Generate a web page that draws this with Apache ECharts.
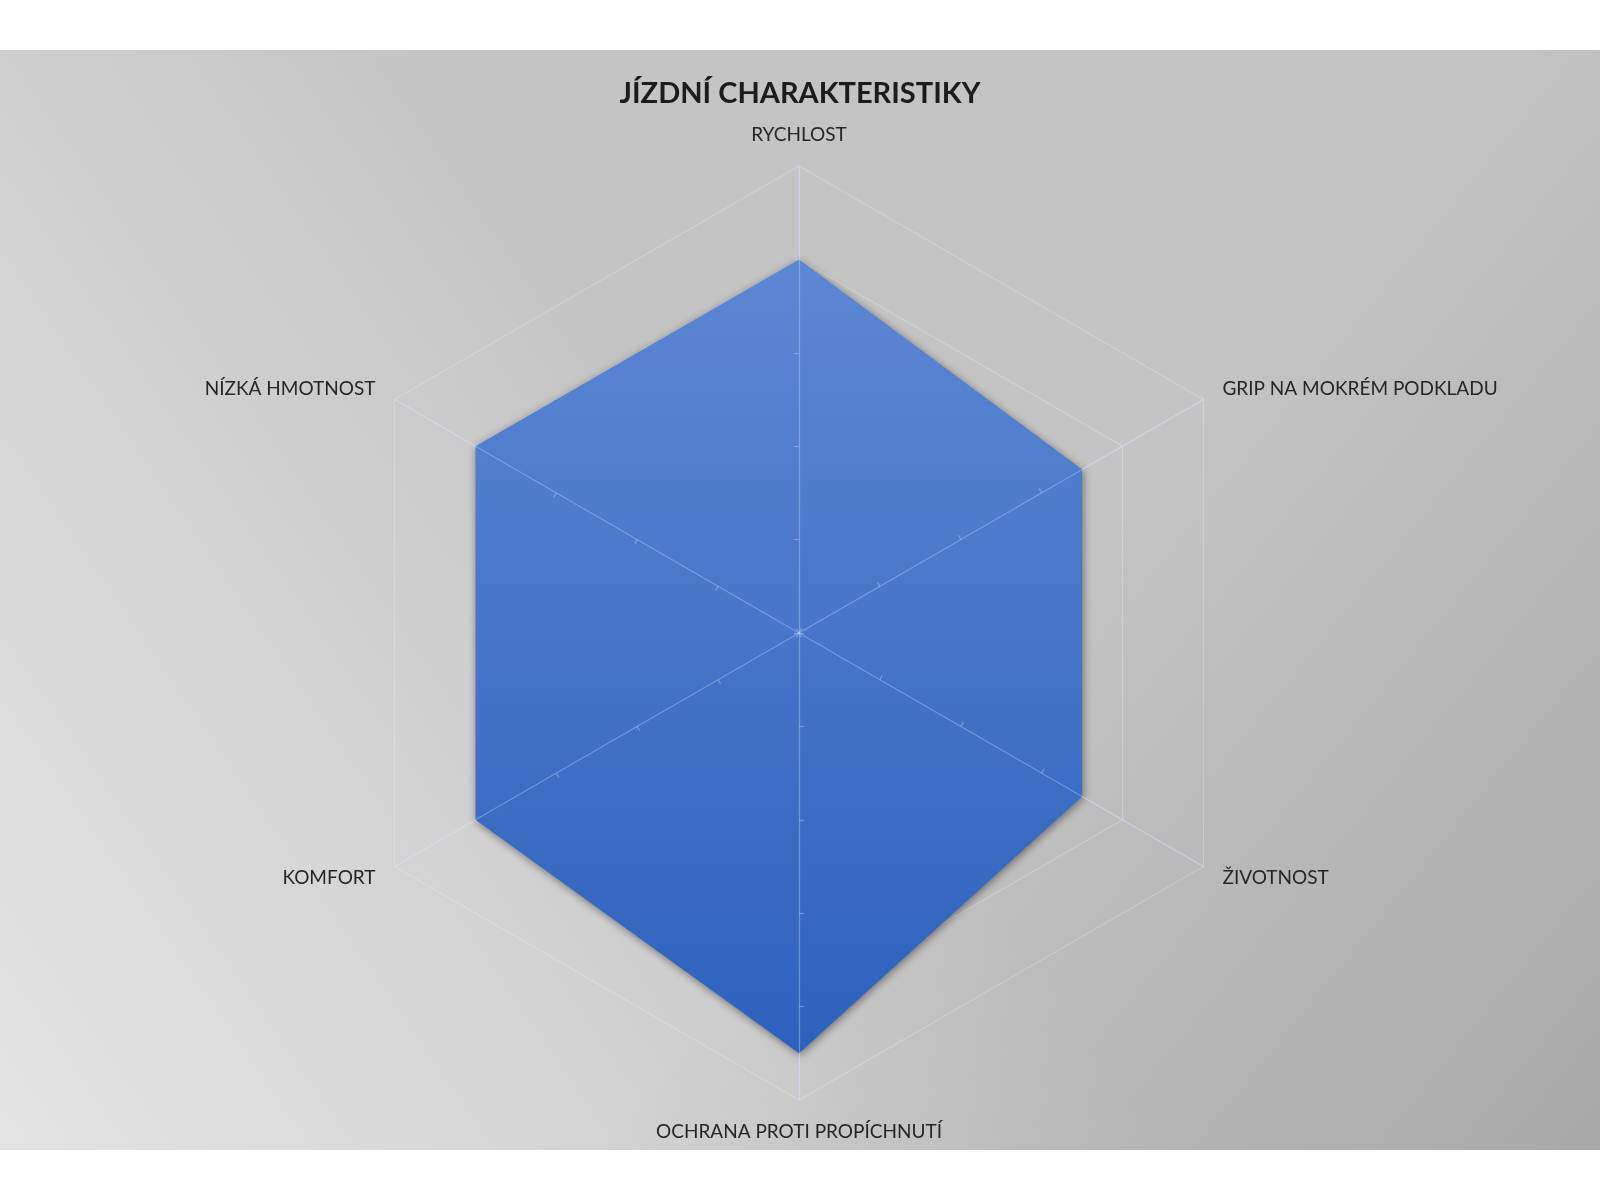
<!DOCTYPE html>
<html>
<head>
<meta charset="utf-8">
<style>
  html, body { margin: 0; padding: 0; background: #ffffff; }
  #chart { width: 1600px; height: 1200px; }
</style>
<script src="https://cdn.jsdelivr.net/npm/echarts@6/dist/echarts.min.js"></script>
</head>
<body>
<div id="chart"></div>
<script>
// Indicators listed counter-clockwise starting from the top (ECharts radar order)
const indicatorNames = ['RYCHLOST', 'NÍZKÁ HMOTNOST', 'KOMFORT', 'OCHRANA PROTI PROPÍCHNUTÍ', 'ŽIVOTNOST', 'GRIP NA MOKRÉM PODKLADU'];
const indicatorMax = 5;
const seriesValues = [4, 4, 4, 4.5, 3.5, 3.5];
const chartTitle = 'JÍZDNÍ CHARAKTERISTIKY';

const chart = echarts.init(document.getElementById('chart'), null, { renderer: 'canvas' });

const indicators = indicatorNames.map(n => ({ name: n, max: indicatorMax, min: 0 }));
const FONT = 'Lato, "Open Sans", sans-serif';

const baseRadar = {
  indicator: indicators,
  center: [799, 633],
  radius: 467,
  startAngle: 90,
  splitNumber: 5,
  shape: 'polygon',
  nameGap: 22,
  axisName: { color: '#262626', fontFamily: FONT, fontSize: 19 }
};

const option = {
  backgroundColor: '#ffffff',
  animation: false,
  graphic: {
    z: -100,
    elements: [
      {
        type: 'rect', z: -100, silent: true,
        shape: { x: 0, y: 50, width: 1600, height: 1100 },
        style: { fill: '#c4c4c4' }
      },
      {
        type: 'rect', z: -99, silent: true,
        shape: { x: 0, y: 50, width: 1600, height: 1100 },
        style: {
          fill: new echarts.graphic.LinearGradient(0, 1, 0.5, 0.5, [
            { offset: 0, color: 'rgba(255,255,255,0.55)' },
            { offset: 1, color: 'rgba(255,255,255,0)' }
          ])
        }
      },
      {
        type: 'rect', z: -98, silent: true,
        shape: { x: 0, y: 50, width: 1600, height: 1100 },
        style: {
          fill: new echarts.graphic.LinearGradient(1, 1, 0.62, 0.55, [
            { offset: 0, color: 'rgba(0,0,0,0.14)' },
            { offset: 1, color: 'rgba(0,0,0,0)' }
          ])
        }
      }
    ]
  },
  title: {
    text: chartTitle,
    left: 'center',
    top: 74,
    textStyle: { fontFamily: FONT, fontWeight: 'bold', fontSize: 29, color: '#1c1c1c' }
  },
  radar: [
    Object.assign({}, baseRadar, {
      z: 0,
      splitLine: { lineStyle: { color: 'rgba(255,255,255,0.22)', width: 1.2 } },
      splitArea: { show: false },
      axisLine: { lineStyle: { color: 'rgba(255,255,255,0.3)', width: 1.2 } },
      axisTick: { show: false }
    }),
    Object.assign({}, baseRadar, {
      z: 10,
      axisName: { show: false },
      splitLine: { show: false },
      splitArea: { show: false },
      axisLine: { lineStyle: { color: 'rgba(190,212,255,0.4)', width: 1.3 } },
      axisTick: { show: true, length: 5, lineStyle: { color: 'rgba(190,212,255,0.4)', width: 1.3 } }
    })
  ],
  series: [
    {
      type: 'radar',
      radarIndex: 0,
      z: 2,
      symbol: 'none',
      silent: true,
      lineStyle: { width: 0, color: 'rgba(0,0,0,0)' },
      areaStyle: {
        opacity: 1,
        color: new echarts.graphic.LinearGradient(0, 0, 0, 1, [
          { offset: 0, color: '#5c87d4' },
          { offset: 1, color: '#2d61bd' }
        ]),
        shadowBlur: 8,
        shadowColor: 'rgba(0,0,0,0.45)',
        shadowOffsetX: 1,
        shadowOffsetY: 2
      },
      data: [{ value: seriesValues, name: chartTitle }]
    }
  ]
};

chart.setOption(option);
</script>
</body>
</html>
